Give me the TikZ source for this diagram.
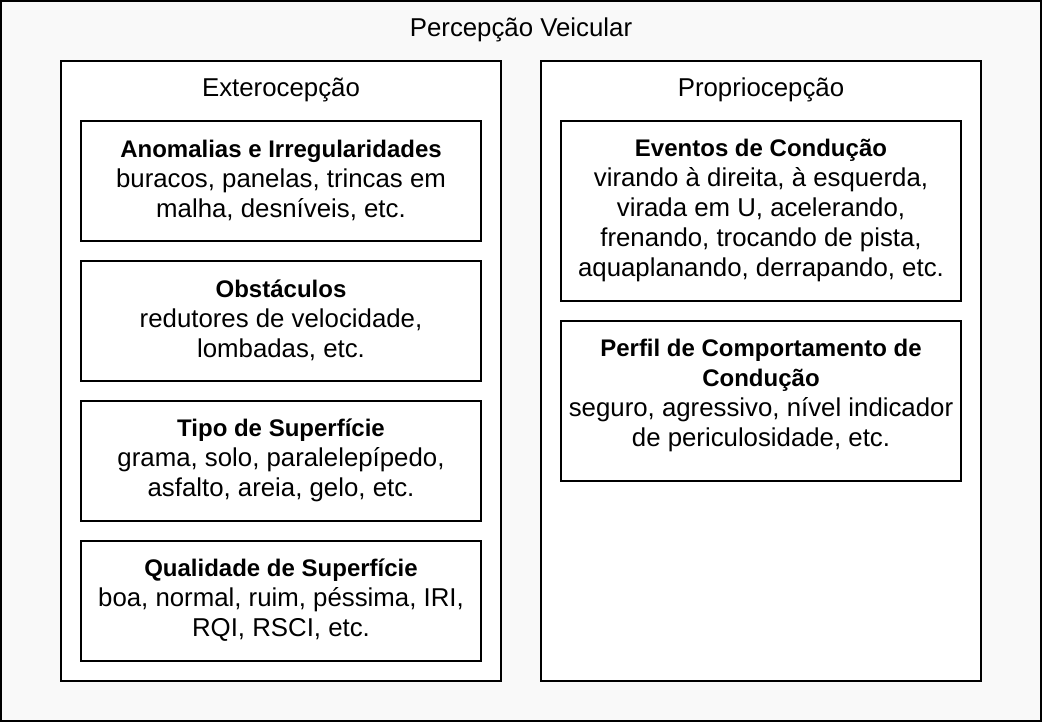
\documentclass[tikz,border=0pt]{standalone}
\usepackage{fontspec}
\setmainfont{Liberation Sans}
\newcommand\hdfont{\fontsize{24}{30}\selectfont\bfseries}
\begin{document}
\begin{tikzpicture}[x=1pt,y=-1pt,
  every node/.style={font=\fontsize{25.8}{30}\selectfont, inner sep=0pt},
  frame/.style={draw=black, line width=2pt, fill=white},
  item/.style={frame, minimum width=400pt, align=center},
  lbl/.style={align=center}]
\useasboundingbox (0,0) rectangle (1044,722);
\node[draw=black, line width=2pt, fill={rgb,255:red,249;green,249;blue,249}, minimum width=1040pt, minimum height=720pt] (outer) at (521,361) {};
\node (title) at (521,30) {Percepção Veicular};
% left column
\node[frame, minimum width=440pt, minimum height=620pt] (ext) at (281,371) {};
\node (extT) at (281,90) {Exterocepção};
\node[item, minimum height=120pt] (a1) at (281,181) {};
\node[lbl] (a1t) at (281,180) {{\hdfont Anomalias e Irregularidades}\\buracos, panelas, trincas em\\malha, desníveis, etc.};
\node[item, minimum height=120pt] (a2) at (281,321) {};
\node[lbl] (a2t) at (281,320) {{\hdfont Obstáculos}\\redutores de velocidade,\\lombadas, etc.};
\node[item, minimum height=120pt] (a3) at (281,461) {};
\node[lbl] (a3t) at (281,460) {{\hdfont Tipo de Superfície}\\grama, solo, paralelepípedo,\\asfalto, areia, gelo, etc.};
\node[item, minimum height=120pt] (a4) at (281,601) {};
\node[lbl] (a4t) at (281,600) {{\hdfont Qualidade de Superfície}\\boa, normal, ruim, péssima, IRI,\\RQI, RSCI, etc.};
% right column
\node[frame, minimum width=440pt, minimum height=620pt] (pro) at (761,371) {};
\node (proT) at (761,90) {Propriocepção};
\node[item, minimum height=180pt] (b1) at (761,211) {};
\node[lbl] (b1t) at (761,210) {{\hdfont Eventos de Condução}\\virando à direita, à esquerda,\\virada em U, acelerando,\\frenando, trocando de pista,\\aquaplanando, derrapando, etc.};
\node[item, minimum height=160pt] (b2) at (761,401) {};
\node[lbl] (b2t) at (761,395) {{\hdfont Perfil de Comportamento de}\\{\hdfont Condução}\\seguro, agressivo, nível indicador\\de periculosidade, etc.};
\end{tikzpicture}
\end{document}
